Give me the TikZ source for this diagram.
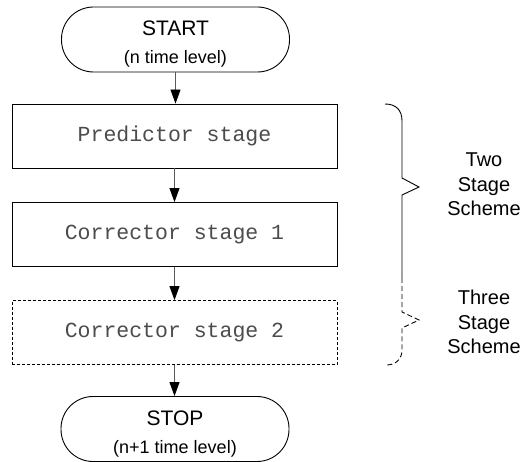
\documentclass[tikz,border=0pt]{standalone}
\usepackage{fontspec}
\setmainfont{Liberation Sans}
\setmonofont{Liberation Mono}
\usetikzlibrary{arrows.meta}
\newcommand{\subfnt}{\fontsize{18}{28}\selectfont}
\begin{document}
\begin{tikzpicture}[x=1pt,y=-1pt,
  term/.style={draw, line width=0.9pt, rounded corners=32pt,
    minimum width=228pt, minimum height=65pt, inner sep=0pt,
    align=center, font=\fontsize{21}{28}\selectfont},
  stagebox/.style={draw, line width=0.9pt, minimum width=325pt,
    minimum height=64pt, inner sep=0pt,
    font=\fontsize{21.5}{24}\selectfont\ttfamily, text=black!70},
  optional/.style={stagebox, dash pattern=on 3pt off 2pt, line width=0.8pt},
  flow/.style={draw=black!65, line width=0.9pt,
    -{Triangle[length=14pt,width=10pt,color=black]}},
  brace/.style={draw, line width=0.9pt},
  schemelabel/.style={anchor=north, inner sep=0pt, align=center,
    font=\fontsize{20}{24.5}\selectfont}
]
\useasboundingbox (0,0) rectangle (524,462);

% flow chart
\node[term] (start) at (175.5,39.5)
  {\rule{0pt}{23pt}START\\{\subfnt(n time level)}};
\node[stagebox] (pred) at (174.5,136) {Predictor stage};
\node[stagebox] (corr1) at (174.5,234.5) {Corrector stage 1};
\node[optional] (corr2) at (174.5,332.5) {Corrector stage 2};
\node[term] (stop) at (175,429)
  {\rule{0pt}{25pt}STOP\\{\subfnt(n+1 time level)}};

\draw[flow] (start.south) -- (start.south |- pred.north);
\draw[flow] (pred.south) -- (corr1.north);
\draw[flow] (corr1.south) -- (corr2.north);
\draw[flow] (corr2.south) -- (corr2.south |- stop.north);

% brace for the two stage scheme
\draw[brace] (385,104) .. controls (396,104) and (402,110) .. (402,121)
  -- (402,178) -- (419,187) -- (402,195) -- (402,278);
% dashed extension for the three stage scheme
\draw[brace, dash pattern=on 5pt off 3pt] (402,278) -- (402,312) -- (419,320)
  -- (402,328) -- (402,350) .. controls (402,359) and (396,365) .. (386,365);

\node[schemelabel] (two) at (484,153) {Two\\Stage\\Scheme};
\node[schemelabel] (three) at (484,290) {Three\\Stage\\Scheme};
\end{tikzpicture}
\end{document}
